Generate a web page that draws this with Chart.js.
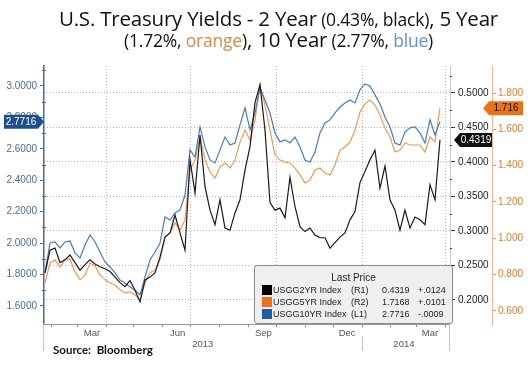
<!DOCTYPE html>
<html lang="en">
<head>
<meta charset="UTF-8">
<title>U.S. Treasury Yields</title>
<script src="https://cdn.jsdelivr.net/npm/chart.js@4.4.1/dist/chart.umd.min.js"></script>
<style>
  html, body { margin: 0; padding: 0; background: #fff; }
  #wrap { position: relative; width: 531px; height: 367px; overflow: hidden; }
  #chart { position: absolute; left: 0; top: 0; }
  .tline { position: absolute; left: 26px; width: 505px; text-align: center; font-family: "Open Sans"; color: #111; line-height: 22px; white-space: nowrap; }
  .big { font-size: 20.5px; letter-spacing: -0.2px; }
  .small { font-size: 17.5px; letter-spacing: -0.2px; }
  #source { position: absolute; left: 53px; top: 343px; font: bold 11.5px Lato; color: #111; }
  #legend { position: absolute; left: 254px; top: 265px; width: 197px; height: 57px; background: #efefef;
            border: 1px solid #8a8a8a; border-radius: 3px; font: 9px "Liberation Sans"; color: #222; }
  #legend span { position: absolute; line-height: 12px; white-space: nowrap; }
  #legend .sq { width: 10px; height: 10px; }
</style>
</head>
<body>
<div id="wrap">
  <canvas id="chart" width="531" height="367"></canvas>
  <div class="tline" style="top:7px"><span class="big">U.S. Treasury Yields - 2 Year</span> <span class="small">(0.43%, black)</span><span class="big">, 5 Year</span></div>
  <div class="tline" style="top:28px"><span class="small">(1.72%, <span style="color:#d9884a">orange</span>)</span><span class="big">, 10 Year</span> <span class="small">(2.77%, <span style="color:#6a8fc4">blue</span>)</span></div>
  <div id="legend"></div>
  <div id="source">Source:&nbsp; Bloomberg</div>
</div>

<script>
    // points roughly every 5 days, x in days since 1 Jan 2013
    const firstDay = 24.5, stepDays = 5.37;

    const y2 = [0.239, 0.272, 0.275, 0.254, 0.258, 0.265, 0.254, 0.243, 0.251, 0.258,
                0.252, 0.248, 0.245, 0.241, 0.233, 0.225, 0.219, 0.228, 0.214, 0.197,
                0.229, 0.233, 0.239, 0.262, 0.291, 0.297, 0.323, 0.297, 0.272, 0.403,
                0.355, 0.439, 0.364, 0.330, 0.309, 0.345, 0.304, 0.301, 0.326, 0.345,
                0.388, 0.422, 0.486, 0.512, 0.446, 0.341, 0.330, 0.333, 0.319, 0.378,
                0.335, 0.306, 0.299, 0.304, 0.294, 0.290, 0.290, 0.275, 0.283, 0.291,
                0.297, 0.316, 0.328, 0.370, 0.386, 0.403, 0.417, 0.362, 0.394, 0.345,
                0.330, 0.301, 0.330, 0.304, 0.320, 0.316, 0.309, 0.367, 0.345, 0.4319];

    const y5 = [0.754, 0.864, 0.881, 0.842, 0.881, 0.886, 0.815, 0.771, 0.798, 0.864,
                0.848, 0.798, 0.771, 0.754, 0.743, 0.716, 0.699, 0.705, 0.688, 0.661,
                0.754, 0.809, 0.826, 0.881, 1.007, 1.030, 1.085, 1.046, 1.101, 1.376,
                1.431, 1.558, 1.431, 1.365, 1.332, 1.393, 1.415, 1.387, 1.431, 1.530,
                1.596, 1.541, 1.651, 1.844, 1.734, 1.596, 1.459, 1.431, 1.420, 1.415,
                1.387, 1.349, 1.305, 1.321, 1.376, 1.387, 1.360, 1.349, 1.404, 1.486,
                1.503, 1.530, 1.596, 1.695, 1.739, 1.761, 1.734, 1.679, 1.607, 1.558,
                1.475, 1.486, 1.525, 1.514, 1.514, 1.514, 1.475, 1.558, 1.530, 1.7168];

    const y10 = [1.810, 2.001, 2.007, 1.969, 2.007, 2.013, 1.937, 1.905, 1.988, 2.052,
                 2.007, 1.943, 1.880, 1.848, 1.810, 1.765, 1.746, 1.721, 1.701, 1.670,
                 1.784, 1.892, 1.943, 2.001, 2.166, 2.147, 2.192, 2.211, 2.306, 2.593,
                 2.548, 2.739, 2.612, 2.529, 2.510, 2.593, 2.675, 2.624, 2.637, 2.752,
                 2.860, 2.720, 2.828, 2.987, 2.911, 2.828, 2.701, 2.644, 2.656, 2.637,
                 2.675, 2.612, 2.529, 2.516, 2.580, 2.701, 2.764, 2.784, 2.828, 2.866,
                 2.892, 2.911, 2.892, 2.975, 3.013, 3.000, 2.943, 2.885, 2.803, 2.739,
                 2.637, 2.624, 2.707, 2.733, 2.739, 2.701, 2.637, 2.784, 2.688, 2.7716];

    const leftTicks = [1.6, 1.8, 2.0, 2.2, 2.4, 2.6, 2.8, 3.0];
    const leftMinor = [1.7, 1.9, 2.1, 2.3, 2.5, 2.7, 2.9, 3.1];
    const r1Ticks = [0.20, 0.25, 0.30, 0.35, 0.40, 0.45, 0.50];
    const r1Minor = [0.175, 0.225, 0.275, 0.325, 0.375, 0.425, 0.475, 0.525];
    const r2Ticks = [0.6, 0.8, 1.0, 1.2, 1.4, 1.6, 1.8];

    const monthStarts = [31, 59, 90, 120, 151, 181, 212, 243, 273, 304, 334, 365, 396, 424, 455];
    const quarterStarts = [90, 181, 273, 365, 455];
    const monthLabels = ['Mar', 'Jun', 'Sep', 'Dec', 'Mar'];
    const monthLabelDays = [75, 167, 259, 349, 438];
    const yearLabels = ['2013', '2014'];
    const yearLabelDays = [194, 410];
    const yearBreak = 365;

    const legendNames = ['USGG2YR Index', 'USGG5YR Index', 'USGG10YR Index'];
    const legendAxes = ['(R1)', '(R2)', '(L1)'];
    const legendLast = ['0.4319', '1.7168', '2.7716'];
    const legendChange = ['+.0124', '+.0101', '-.0009'];
    const legendColors = ['#000000', '#e8731a', '#1f5ca6'];

    const toPts = arr => arr.map((v, i) => ({ x: firstDay + i * stepDays, y: v }));

    // legend box (html)
    const lg = document.getElementById('legend');
    let html = '<span style="left:0;width:197px;text-align:center;top:6px;font-size:10px">Last Price</span>';
    legendNames.forEach((n, i) => {
        const top = 18 + i * 12;
        html += `<span class="sq" style="left:7px;top:${top + 1}px;background:${legendColors[i]}"></span>`;
        html += `<span style="left:18px;top:${top}px">${n}</span>`;
        html += `<span style="left:96px;top:${top}px">${legendAxes[i]}</span>`;
        html += `<span style="left:127px;top:${top}px">${legendLast[i]}</span>`;
        html += `<span style="left:163px;top:${top}px">${legendChange[i]}</span>`;
    });
    lg.innerHTML = html;

    function tag(ctx, tipX, y, w, dir, fill, color, text) {
        const h = 14, p = 6;
        ctx.beginPath();
        if (dir > 0) {           // tip on the right
            ctx.moveTo(tipX, y);
            ctx.lineTo(tipX - p, y - h / 2);
            ctx.lineTo(tipX - w, y - h / 2);
            ctx.lineTo(tipX - w, y + h / 2);
            ctx.lineTo(tipX - p, y + h / 2);
        } else {                 // tip on the left
            ctx.moveTo(tipX, y);
            ctx.lineTo(tipX + p, y - h / 2);
            ctx.lineTo(tipX + w, y - h / 2);
            ctx.lineTo(tipX + w, y + h / 2);
            ctx.lineTo(tipX + p, y + h / 2);
        }
        ctx.closePath();
        ctx.fillStyle = fill;
        ctx.fill();
        ctx.fillStyle = color;
        ctx.font = '10px "Liberation Sans"';
        ctx.textAlign = 'center';
        ctx.textBaseline = 'middle';
        const cx = dir > 0 ? tipX - (w + p) / 2 : tipX + (w + p) / 2;
        ctx.fillText(text, cx, y + 0.5);
    }

    const extras = {
        id: 'extras',
        afterDraw(chart) {
            const { ctx, chartArea: ca, scales } = chart;
            const x = scales.x;
            ctx.save();
            ctx.lineWidth = 1;

            // minor ticks
            ctx.strokeStyle = '#4a6d96';
            leftMinor.forEach(v => {
                const py = Math.round(scales.yL.getPixelForValue(v)) + 0.5;
                ctx.beginPath(); ctx.moveTo(ca.left - 2, py); ctx.lineTo(ca.left + 2, py); ctx.stroke();
            });
            ctx.strokeStyle = '#444';
            r1Minor.forEach(v => {
                const py = Math.round(scales.yR1.getPixelForValue(v)) + 0.5;
                ctx.beginPath(); ctx.moveTo(ca.right, py); ctx.lineTo(ca.right + 2, py); ctx.stroke();
            });

            // frame of the date area
            ctx.strokeStyle = '#c4c4c4';
            const xl = Math.round(ca.left) - 0.5, xr = Math.round(ca.right) - 0.5;
            const xb = Math.round(x.getPixelForValue(yearBreak)) + 0.5;
            ctx.beginPath();
            ctx.moveTo(xl, ca.bottom); ctx.lineTo(xl, ca.bottom + 27);
            ctx.moveTo(xr, ca.bottom); ctx.lineTo(xr, ca.bottom + 27);
            ctx.moveTo(xb, ca.bottom + 12); ctx.lineTo(xb, ca.bottom + 27);
            ctx.stroke();

            // date labels
            ctx.fillStyle = '#555';
            ctx.font = '9.5px "Liberation Sans"';
            ctx.textAlign = 'center';
            ctx.textBaseline = 'middle';
            monthLabels.forEach((t, i) => ctx.fillText(t, x.getPixelForValue(monthLabelDays[i]), ca.bottom + 9));
            yearLabels.forEach((t, i) => ctx.fillText(t, x.getPixelForValue(yearLabelDays[i]), ca.bottom + 20));

            // last value tags
            tag(ctx, ca.left, scales.yL.getPixelForValue(y10[y10.length - 1]), 40, 1, '#1c4f8c', '#fff', legendLast[2]);
            tag(ctx, ca.right + 4, scales.yR1.getPixelForValue(y2[y2.length - 1]), 38, -1, '#111', '#fff', legendLast[0]);
            tag(ctx, scales.yR2.left - 9, scales.yR2.getPixelForValue(y5[y5.length - 1]), 40, -1, '#e8731a', '#111', '1.716');
            ctx.restore();
        }
    };

    const tickFont = { family: 'Liberation Sans', size: 10 };

    new Chart(document.getElementById('chart'), {
        type: 'line',
        data: {
            datasets: [
                { label: 'USGG2YR Index', data: toPts(y2), yAxisID: 'yR1', borderColor: '#1a1a1a', borderWidth: 1.2 },
                { label: 'USGG10YR Index', data: toPts(y10), yAxisID: 'yL', borderColor: '#4a7abd', borderWidth: 1.2 },
                { label: 'USGG5YR Index', data: toPts(y5), yAxisID: 'yR2', borderColor: '#eb9a58', borderWidth: 1.2 }
            ]
        },
        options: {
            responsive: false,
            animation: false,
            layout: { padding: { top: 66, bottom: 17, left: 0, right: 0 } },
            elements: { point: { radius: 0 }, line: { tension: 0 } },
            plugins: { legend: { display: false }, tooltip: { enabled: false } },
            scales: {
                x: {
                    type: 'linear', min: 23.4, max: 459.5,
                    afterBuildTicks: s => { s.ticks = monthStarts.map(v => ({ value: v })); },
                    afterFit: s => { s.height = 26; },
                    ticks: { display: false },
                    grid: {
                        color: c => (c.tick && quarterStarts.includes(c.tick.value)) ? '#b4b4b4' : 'rgba(0,0,0,0)',
                        tickColor: '#888', tickLength: 3
                    },
                    border: { color: '#9a9a9a', dash: [1, 2] }
                },
                yL: {
                    position: 'left', min: 1.485, max: 3.127,
                    afterBuildTicks: s => { s.ticks = leftTicks.map(v => ({ value: v })); },
                    afterFit: s => { s.width = 44; },
                    ticks: { color: '#4a6d96', font: tickFont, padding: 3, callback: v => v.toFixed(4) },
                    grid: { drawOnChartArea: false, tickLength: 4, tickColor: '#4a6d96' },
                    border: { color: '#4a6d96', width: 1.5 }
                },
                yR1: {
                    position: 'right', weight: 0, min: 0.165, max: 0.539,
                    afterBuildTicks: s => { s.ticks = r1Ticks.map(v => ({ value: v })); },
                    afterFit: s => { s.width = 42; },
                    ticks: { color: '#222', font: tickFont, padding: 3, callback: v => v.toFixed(4) },
                    grid: { color: '#b4b4b4', tickColor: '#333', tickLength: 5 },
                    border: { color: '#c8c8c8', dash: [1, 2] }
                },
                yR2: {
                    position: 'right', weight: 1, min: 0.528, max: 1.949,
                    afterBuildTicks: s => { s.ticks = r2Ticks.map(v => ({ value: v })); },
                    afterFit: s => { s.width = 39; },
                    ticks: { color: '#e07b30', font: tickFont, padding: 2, callback: v => v.toFixed(3) },
                    grid: { drawOnChartArea: false, tickLength: 4, tickColor: '#e8945a' },
                    border: { color: '#f0b888' }
                }
            }
        },
        plugins: [extras]
    });
</script>
</body>
</html>
